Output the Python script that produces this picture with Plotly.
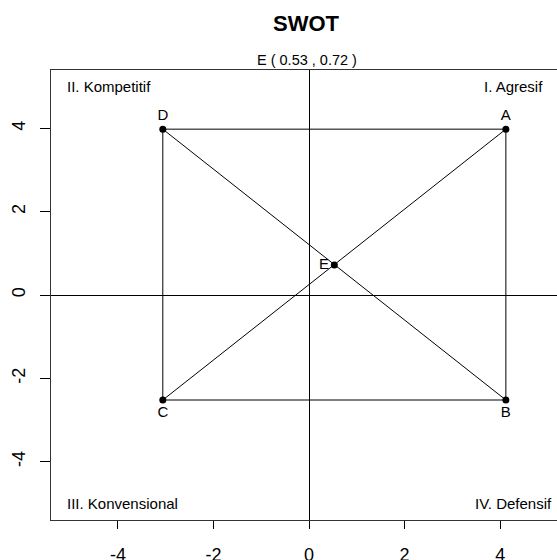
import plotly.graph_objects as go

# SWOT corner points (x = internal, y = external)
corner_names = ["A", "B", "C", "D"]
corner_x = [4.12, 4.12, -3.06, -3.06]
corner_y = [3.98, -2.52, -2.52, 3.98]
label_pos = ["top center", "bottom center", "bottom center", "top center"]

e_name = "E"
e_x = 0.53
e_y = 0.72

quadrants = ["I. Agresif", "II. Kompetitif", "III. Konvensional", "IV. Defensif"]
quad_x = [4.94, -5.1, -5.1, 5.13]
quad_y = [5.0, 5.0, -5.0, -5.0]
quad_anchor = ["right", "left", "left", "right"]

tick_vals = [-4, -2, 0, 2, 4]
tick_text = ["-4", "-2", "0", "2", "4"]

FONT = "Liberation Sans, Arial, sans-serif"

fig = go.Figure()

# rectangle A-B-C-D-A
fig.add_trace(go.Scatter(
    x=corner_x + [corner_x[0]], y=corner_y + [corner_y[0]],
    mode="lines", line=dict(color="black", width=1), hoverinfo="skip"))
# diagonals A-C and B-D
fig.add_trace(go.Scatter(
    x=[corner_x[0], corner_x[2], None, corner_x[1], corner_x[3]],
    y=[corner_y[0], corner_y[2], None, corner_y[1], corner_y[3]],
    mode="lines", line=dict(color="black", width=1), hoverinfo="skip"))
# corner points
fig.add_trace(go.Scatter(
    x=corner_x, y=corner_y, mode="markers+text", text=corner_names,
    textposition=label_pos, textfont=dict(family=FONT, size=15, color="black"),
    marker=dict(color="black", size=7)))
# E point
fig.add_trace(go.Scatter(
    x=[e_x], y=[e_y], mode="markers+text", text=[e_name],
    textposition="middle left", textfont=dict(family=FONT, size=15, color="black"),
    marker=dict(color="black", size=7)))

for q, qx, qy, qa in zip(quadrants, quad_x, quad_y, quad_anchor):
    fig.add_annotation(x=qx, y=qy, text=q, showarrow=False, xanchor=qa,
                       yanchor="middle", font=dict(family=FONT, size=15, color="black"))

fig.add_annotation(x=-0.05, y=1, xref="x", yref="paper", yanchor="bottom",
                   text=f"E ( {e_x} , {e_y} )", showarrow=False, yshift=0,
                   font=dict(family=FONT, size=14.5, color="black"))
fig.add_annotation(x=-0.05, y=1, xref="x", yref="paper", yanchor="bottom",
                   text="<b>SWOT</b>", showarrow=False, yshift=32,
                   font=dict(family=FONT, size=22, color="black"))

fig.update_xaxes(range=[-5.4, 5.19], tickvals=tick_vals, ticktext=tick_text,
                 ticks="outside", ticklen=8, ticklabelstandoff=10, automargin=False,
                 tickcolor="black", showgrid=False, zeroline=True, zerolinecolor="black",
                 zerolinewidth=1, showline=True, linecolor="#333", linewidth=1, mirror=True,
                 tickfont=dict(family=FONT, size=18, color="black"))
fig.update_yaxes(range=[-5.4, 5.4], tickvals=tick_vals, ticktext=tick_text,
                 ticks="outside", ticklen=10, ticklabelstandoff=8, automargin=False,
                 tickcolor="black", showgrid=False, zeroline=True, zerolinecolor="black",
                 zerolinewidth=1, showline=True, linecolor="#333", linewidth=1,
                 tickangle=-90, tickfont=dict(family=FONT, size=18, color="black"))

fig.update_layout(width=557, height=560, showlegend=False,
                  plot_bgcolor="white", paper_bgcolor="white",
                  margin=dict(l=51, r=0, t=70, b=40))

fig.write_html("out.html", config={"displayModeBar": False},
               post_script="document.body.style.margin='0';document.body.style.overflow='hidden';")
